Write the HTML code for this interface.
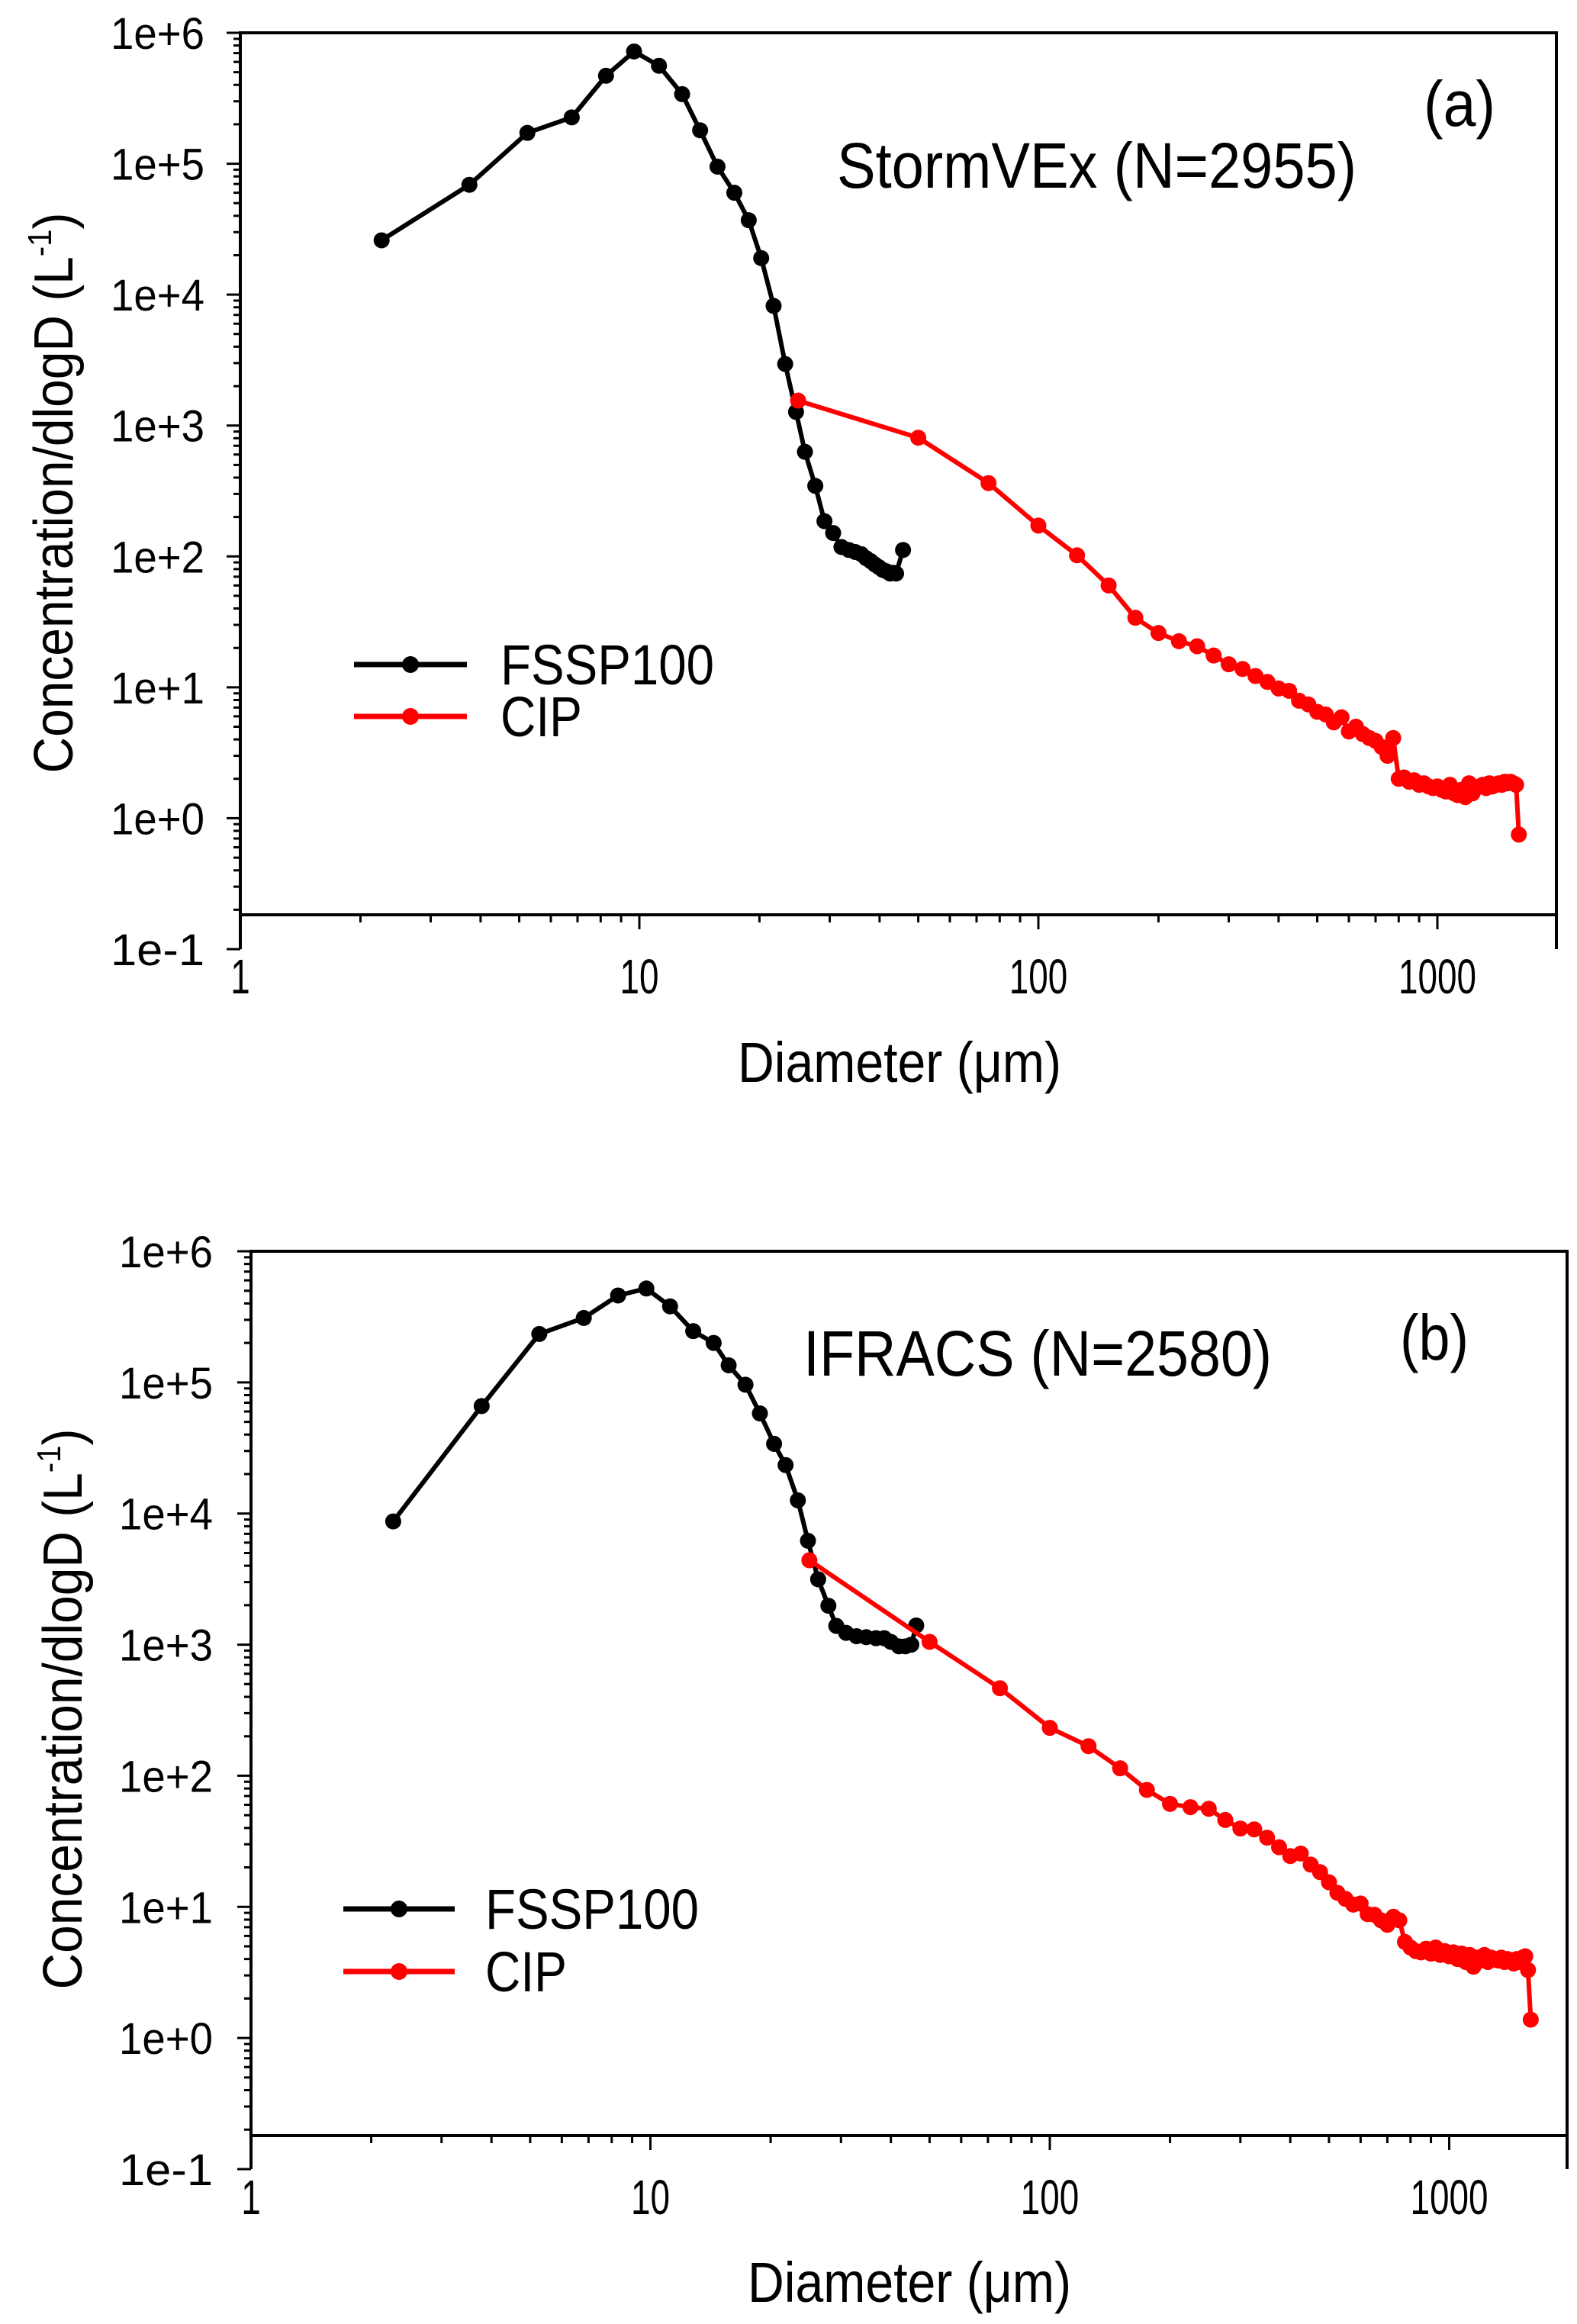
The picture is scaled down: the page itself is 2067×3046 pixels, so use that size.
<!DOCTYPE html>
<html><head><meta charset="utf-8"><style>
html,body{margin:0;padding:0;background:#fff}
svg{display:block}
text{font-family:"Liberation Sans",Arial,sans-serif;fill:#000}
</style></head><body>
<svg id="fig" width="2067" height="3046" viewBox="0 0 2067 3046"></svg>
<script>
// ---- data ----
const fsspA_x=[2.26,3.75,5.24,6.77,8.25,9.7,11.2,12.8,14.2,15.7,17.3,18.8,20.2,21.7,23.2,24.7,26.0,27.6,29.1,30.6,32.1,33.5,34.8,36.0,37.0,38.0,38.9,39.8,40.7,41.6,42.5,43.3,44.0,45.8];
const fsspA_y=[2.6e4,6.9e4,1.72e5,2.26e5,4.7e5,7.2e5,5.6e5,3.4e5,1.8e5,9.5e4,6e4,3.7e4,1.9e4,8.2e3,2.95e3,1.27e3,630,346,186,151,118,112,108,104,97,92,87,83,79,77,74,75,74,112];
const cipX=[25,50,75,100,125,150,175,200,225,250,275,300,325,350,375,400,425,450,475,500,525,550,575,600,625,650,675,700,725,750,775,800,825,850,875,900,925,950,975,1000,1025,1050,1075,1100,1125,1150,1175,1200,1225,1250,1275,1300,1325,1350,1375,1400,1425,1450,1475,1500,1525,1550,1575,1600];
const cipA_y=[1550,807,363,172,102,60,34,26,22.5,20.6,17.5,15,13.8,12.2,11,9.8,9.4,7.9,7.4,6.5,6.2,5.4,5.9,4.6,5.0,4.4,4.1,3.9,3.5,3.0,4.1,2.0,2.05,1.9,1.95,1.8,1.85,1.75,1.7,1.75,1.65,1.6,1.8,1.55,1.5,1.65,1.45,1.85,1.55,1.7,1.75,1.8,1.7,1.85,1.75,1.8,1.85,1.8,1.9,1.85,1.9,1.85,1.8,0.75];
const fsspB_x=[2.27,3.78,5.27,6.81,8.3,9.77,11.2,12.8,14.4,15.7,17.3,18.8,20.4,21.8,23.4,24.8,26.3,27.9,29.2,30.9,32.8,34.7,36.7,38.5,40.0,41.9,43.5,45.0,46.3];
const fsspB_y=[8.7e3,6.6e4,2.34e5,3.1e5,4.6e5,5.2e5,3.8e5,2.46e5,2.0e5,1.35e5,9.6e4,5.8e4,3.4e4,2.34e4,1.26e4,6.2e3,3.15e3,1.98e3,1.39e3,1.23e3,1.16e3,1.14e3,1.12e3,1.12e3,1.05e3,970,970,1000,1400];
const cipB_y=[4400,1050,465,232,168,114,78,61,57.6,56,46,39.6,39,33.7,28.5,24.4,25.5,21,18.4,15.4,12.8,11.5,10.4,10.6,8.8,8.7,7.9,7.3,8.4,7.9,5.4,4.9,4.6,4.5,4.8,4.4,4.9,4.3,4.6,4.2,4.5,4.0,4.4,3.8,4.3,3.5,4.1,3.9,4.3,3.8,4.1,4.0,3.9,4.1,3.8,4.0,3.9,3.7,4.0,3.8,4.1,4.2,3.3,1.38];
const yTickLabels=["1e-1","1e+0","1e+1","1e+2","1e+3","1e+4","1e+5","1e+6"];
const xTickLabels=["1","10","100","1000"];

const NS="http://www.w3.org/2000/svg";
const svg=document.getElementById('fig');
function mk(tag,attrs,parent){const e=document.createElementNS(NS,tag);for(const k in attrs)e.setAttribute(k,attrs[k]);(parent||svg).appendChild(e);return e;}

function panel(P){
  const g=mk('g',{});
  
  
  const dec=(P.bot-P.top)/7, xdec=P.xdec;
  const X=v=>P.left+Math.log10(v)*xdec;
  const Y=v=>P.bot-(Math.log10(v)+1)*dec;
  const fr=mk('path',{d:`M${P.left} ${P.bot} L${P.left} ${P.top} L${P.right} ${P.top} L${P.right} ${P.bot} M${P.left} ${P.xline} L${P.right} ${P.xline}`,stroke:'#000','stroke-width':4,fill:'none'},g);
  
  
  const yt=mk('g',{},g);
  
  
  let d='';
  for(let e=-1;e<=6;e++){
    const y=Y(Math.pow(10,e));
    d+=`M${P.left-18} ${y}H${P.left}`;
    if(e<6)for(let m=2;m<=9;m++){const ym=Y(m*Math.pow(10,e)); if(ym>P.top) d+=`M${P.left-9} ${ym}H${P.left}`;}
    const t=mk('text',{x:P.lblx,y:y+21,'font-size':58,textLength:123,lengthAdjust:'spacingAndGlyphs'},yt);
    t.textContent=yTickLabels[e+1];
    
    
  }
  mk('path',{d:d,stroke:'#000','stroke-width':3},yt);
  const xt=mk('g',{},g);
  
  
  d='';
  for(let e=0;e<=3;e++){
    for(let m=1;m<=9;m++){const v=m*Math.pow(10,e);const x=X(v); if(x>P.right)break; if(m===1&&e===0)continue; d+=`M${x} ${P.xline}V${P.xline+(m===1?19:10)}`;}
    const lab=xTickLabels[e];
    const t=mk('text',{x:X(Math.pow(10,e)),y:P.xlbly,'font-size':64,'text-anchor':'middle',textLength:lab.length*25.5,lengthAdjust:'spacingAndGlyphs'},xt);
    t.textContent=lab;
    
    
  }
  mk('path',{d:d,stroke:'#000','stroke-width':3},xt);
  function series(xs,ys,col,name){
    const sg=mk('g',{},g);
    
    
    const pts=xs.map((x,i)=>X(x).toFixed(1)+','+Y(ys[i]).toFixed(1)).join(' ');
    mk('polyline',{points:pts,fill:'none',stroke:col,'stroke-width':6,'stroke-linejoin':'round'},sg);
    xs.forEach((x,i)=>{
      const c=mk('circle',{cx:X(x),cy:Y(ys[i]),r:10.5,fill:col},sg);
      
      
    });
  }
  series(P.fx,P.fy,'#000','fssp100-series');
  series(cipX,P.cy,'#ff0000','cip-series');
  const yti=mk('text',{transform:`translate(${P.ytx},${P.yty}) rotate(-90)`,'font-size':72,'text-anchor':'middle',textLength:735,lengthAdjust:'spacingAndGlyphs'},g);
  yti.innerHTML='Concentration/dlogD (L<tspan font-size="44" dy="-28">-1</tspan><tspan dy="28">)</tspan>';
  
  
  const xti=mk('text',{x:P.xtx,y:P.xty,'font-size':74,'text-anchor':'middle',textLength:424,lengthAdjust:'spacingAndGlyphs'},g);
  xti.textContent='Diameter (\u03bcm)';
  
  
  const tt=mk('text',{x:P.tx,y:P.ty,'font-size':84,textLength:P.tw,lengthAdjust:'spacingAndGlyphs'},g);
  tt.textContent=P.title;
  
  
  const pl=mk('text',{x:P.lx,y:P.ly,'font-size':84,textLength:P.lw,lengthAdjust:'spacingAndGlyphs'},g);
  pl.textContent=P.label;
  
  
  const lg=mk('g',{},g);
  
  
  [['FSSP100','#000',P.leg1y,280],['CIP','#ff0000',P.leg2y,107]].forEach(([nm,col,y,w])=>{
    const en=mk('g',{},lg);
    
    
    mk('line',{x1:P.legx1,x2:P.legx2,y1:y,y2:y,stroke:col,'stroke-width':7},en);
    mk('circle',{cx:(P.legx1+P.legx2)/2,cy:y,r:11,fill:col},en);
    const t=mk('text',{x:P.legtx,y:y+26,'font-size':74,textLength:w,lengthAdjust:'spacingAndGlyphs'},en);
    t.textContent=nm;
  });
}
panel({id:'panel-a',left:315,right:2040,top:43,bot:1244,xline:1199,xdec:523,lblx:145,xlbly:1302,
  fx:fsspA_x,fy:fsspA_y,cy:cipA_y,ytx:95,yty:646,xtx:1179,xty:1418,
  title:'StormVEx (N=2955)',tx:1097,ty:246,tw:681,label:'(a)',lx:1866,ly:165,lw:94,
  legx1:464,legx2:612,leg1y:871,leg2y:939,legtx:656});
panel({id:'panel-b',left:329,right:2054,top:1640,bot:2843,xline:2799,xdec:523.5,lblx:156,xlbly:2902,
  fx:fsspB_x,fy:fsspB_y,cy:cipB_y,ytx:107,yty:2240,xtx:1192,xty:3017,
  title:'IFRACS (N=2580)',tx:1053,ty:1803,tw:614,label:'(b)',lx:1835,ly:1782,lw:90,
  legx1:450,legx2:596,leg1y:2502,leg2y:2584,legtx:636});
</script>
</body></html>
